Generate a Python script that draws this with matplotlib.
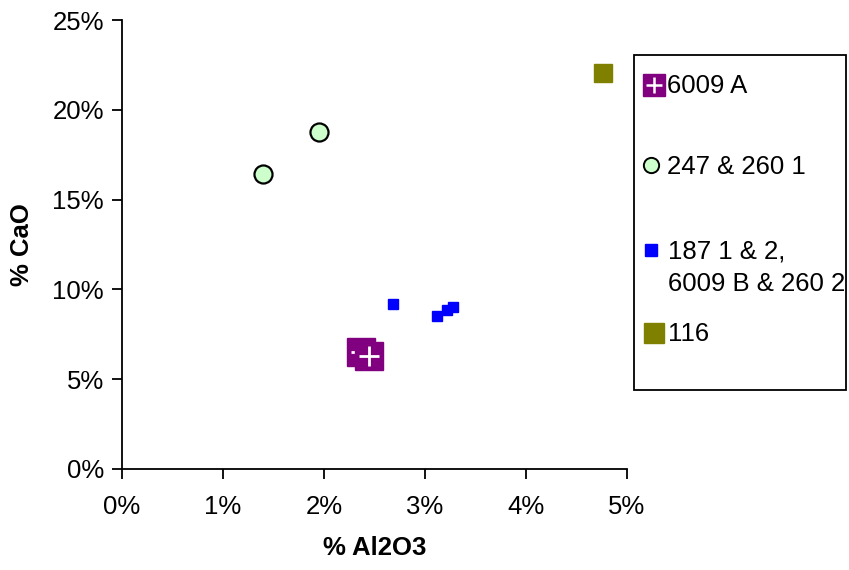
import matplotlib
matplotlib.use("Agg")
import matplotlib.pyplot as plt
from matplotlib.lines import Line2D
from matplotlib.patches import Rectangle
from matplotlib.ticker import FuncFormatter

plt.rcParams['font.family'] = ['Liberation Sans', 'DejaVu Sans']

# Data (fractions: % Al2O3, % CaO)
a_x = [0.0237, 0.0245]
a_y = [0.0651, 0.0629]
b_x = [0.0140, 0.0195]
b_y = [0.1643, 0.1876]
c_x = [0.0268, 0.0312, 0.0322, 0.0328]
c_y = [0.0919, 0.0852, 0.0885, 0.0902]
d_x = [0.0476]
d_y = [0.2205]

labels = ['6009 A', '247 & 260 1', '187 1 & 2,', '6009 B & 260 2', '116']
x_ticks = [0, 0.01, 0.02, 0.03, 0.04, 0.05]
y_ticks = [0, 0.05, 0.10, 0.15, 0.20, 0.25]

purple = '#800080'
green = '#CCFFCC'
blue = '#0000FF'
olive = '#808000'

FS = 18.5
W, H = 849, 570

fig = plt.figure(figsize=(8.49, 5.70), dpi=100)
ax = fig.add_axes([0.1437, 0.1772, 0.7385 - 0.1437, 0.9649 - 0.1772])

z = 3
for xi, yi in zip(a_x, a_y):
    ax.plot([xi], [yi], linestyle='none', marker='s', markersize=19.5, color=purple,
            markeredgecolor=purple, clip_on=False, zorder=z)
    ax.plot([xi], [yi], linestyle='none', marker='+', markersize=15, color='white',
            markeredgewidth=2.0, clip_on=False, zorder=z + 0.5)
    z += 1
ax.plot(b_x, b_y, linestyle='none', marker='o', markersize=13, color=green,
        markeredgecolor='black', markeredgewidth=1.6, clip_on=False, zorder=3)
ax.plot(c_x, c_y, linestyle='none', marker='s', markersize=7, color=blue,
        markeredgecolor=blue, clip_on=False, zorder=3)
ax.plot(d_x, d_y, linestyle='none', marker='s', markersize=13, color=olive,
        markeredgecolor=olive, clip_on=False, zorder=3)

ax.set_xlim(0, 0.05)
ax.set_ylim(0, 0.25)
ax.set_xticks(x_ticks)
ax.set_yticks(y_ticks)
ax.xaxis.set_major_formatter(FuncFormatter(lambda v, p: f"{v*100:.0f}%"))
ax.yaxis.set_major_formatter(FuncFormatter(lambda v, p: f"{v*100:.0f}%"))
ax.tick_params(axis='both', direction='out', length=7, width=1.3, labelsize=FS, color='black')
ax.tick_params(axis='x', pad=12)
ax.tick_params(axis='y', pad=6)
for s in ['top', 'right']:
    ax.spines[s].set_visible(False)
for s in ['left', 'bottom']:
    ax.spines[s].set_linewidth(1.3)

ax.set_xlabel('% Al2O3', fontsize=FS, fontweight='bold', labelpad=12)
ax.set_ylabel('% CaO', fontsize=FS, fontweight='bold', labelpad=13)

# manual legend
def fx(px):
    return px / W

def fy(py):
    return 1 - py / H

fig.patches.append(Rectangle((fx(634), fy(390)), (846 - 634) / W, (390 - 55) / H,
                             transform=fig.transFigure, facecolor='white',
                             edgecolor='black', linewidth=1.3, zorder=1))

def fig_marker(px, py, **kw):
    fig.add_artist(Line2D([fx(px)], [fy(py)], transform=fig.transFigure,
                          linestyle='none', **kw))

fig_marker(653.5, 84.5, marker='s', markersize=16.5, color=purple)
fig_marker(653.5, 84.5, marker='+', markersize=12, color='white', markeredgewidth=1.8)
fig_marker(651, 165, marker='o', markersize=11, color=green,
           markeredgecolor='black', markeredgewidth=1.4)
fig_marker(651, 250, marker='s', markersize=8, color=blue)
fig_marker(653.5, 332.5, marker='s', markersize=13.7, color=olive)

text_pos = [(667, 93), (667, 174), (668, 258), (668, 291), (668, 341)]
for lab, (px, py) in zip(labels, text_pos):
    fig.text(fx(px), fy(py), lab, fontsize=FS, ha='left', va='baseline')

fig.savefig('out.png', dpi=100)
